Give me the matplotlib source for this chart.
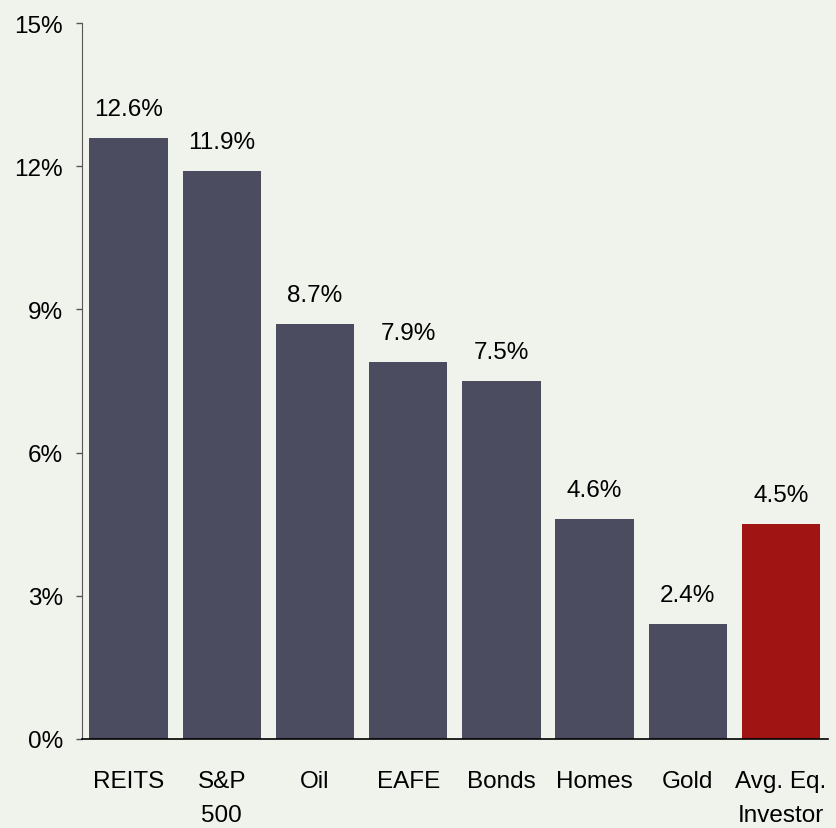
import matplotlib.pyplot as plt

# Average annual returns by asset class
categories = ['REITS', 'S&P\n500', 'Oil', 'EAFE', 'Bonds', 'Homes', 'Gold', 'Avg. Eq.\nInvestor']
returns = [12.6, 11.9, 8.7, 7.9, 7.5, 4.6, 2.4, 4.5]
y_ticks = [0, 3, 6, 9, 12, 15]

bg = '#F0F2EC'
bar_color = '#4B4C60'
highlight = '#A01414'
colors = [bar_color] * 7 + [highlight]

plt.rcParams['font.family'] = ['Liberation Sans', 'DejaVu Sans']

fig = plt.figure(figsize=(8.36, 8.29), dpi=100, facecolor=bg)
ax = fig.add_axes([0.098, 0.1074, 0.892, 0.8636], facecolor=bg)

x = range(len(categories))
ax.bar(x, returns, width=0.84, color=colors)

# value labels above each bar
for i, v in enumerate(returns):
    ax.annotate(f'{v:.1f}%', (i, v), xytext=(0, 18), textcoords='offset pixels',
                ha='center', va='bottom', fontsize=17.5, color='black')

ax.set_xlim(-0.5, len(categories) - 0.5)
ax.set_ylim(0, 15)
ax.set_yticks(y_ticks)
ax.set_yticklabels([f'{t}%' for t in y_ticks], fontsize=17.5)
ax.set_xticks(list(x))
ax.set_xticklabels(categories, fontsize=17.5, linespacing=1.75)

ax.tick_params(axis='x', length=0, pad=22)
ax.tick_params(axis='y', length=4.5, width=1, direction='out', pad=9, color='#555555')

ax.spines['top'].set_visible(False)
ax.spines['right'].set_visible(False)
ax.spines['left'].set_color('#555555')
ax.spines['bottom'].set_color('black')
ax.spines['bottom'].set_linewidth(1.2)

fig.savefig('out.png', dpi=100, facecolor=bg)
